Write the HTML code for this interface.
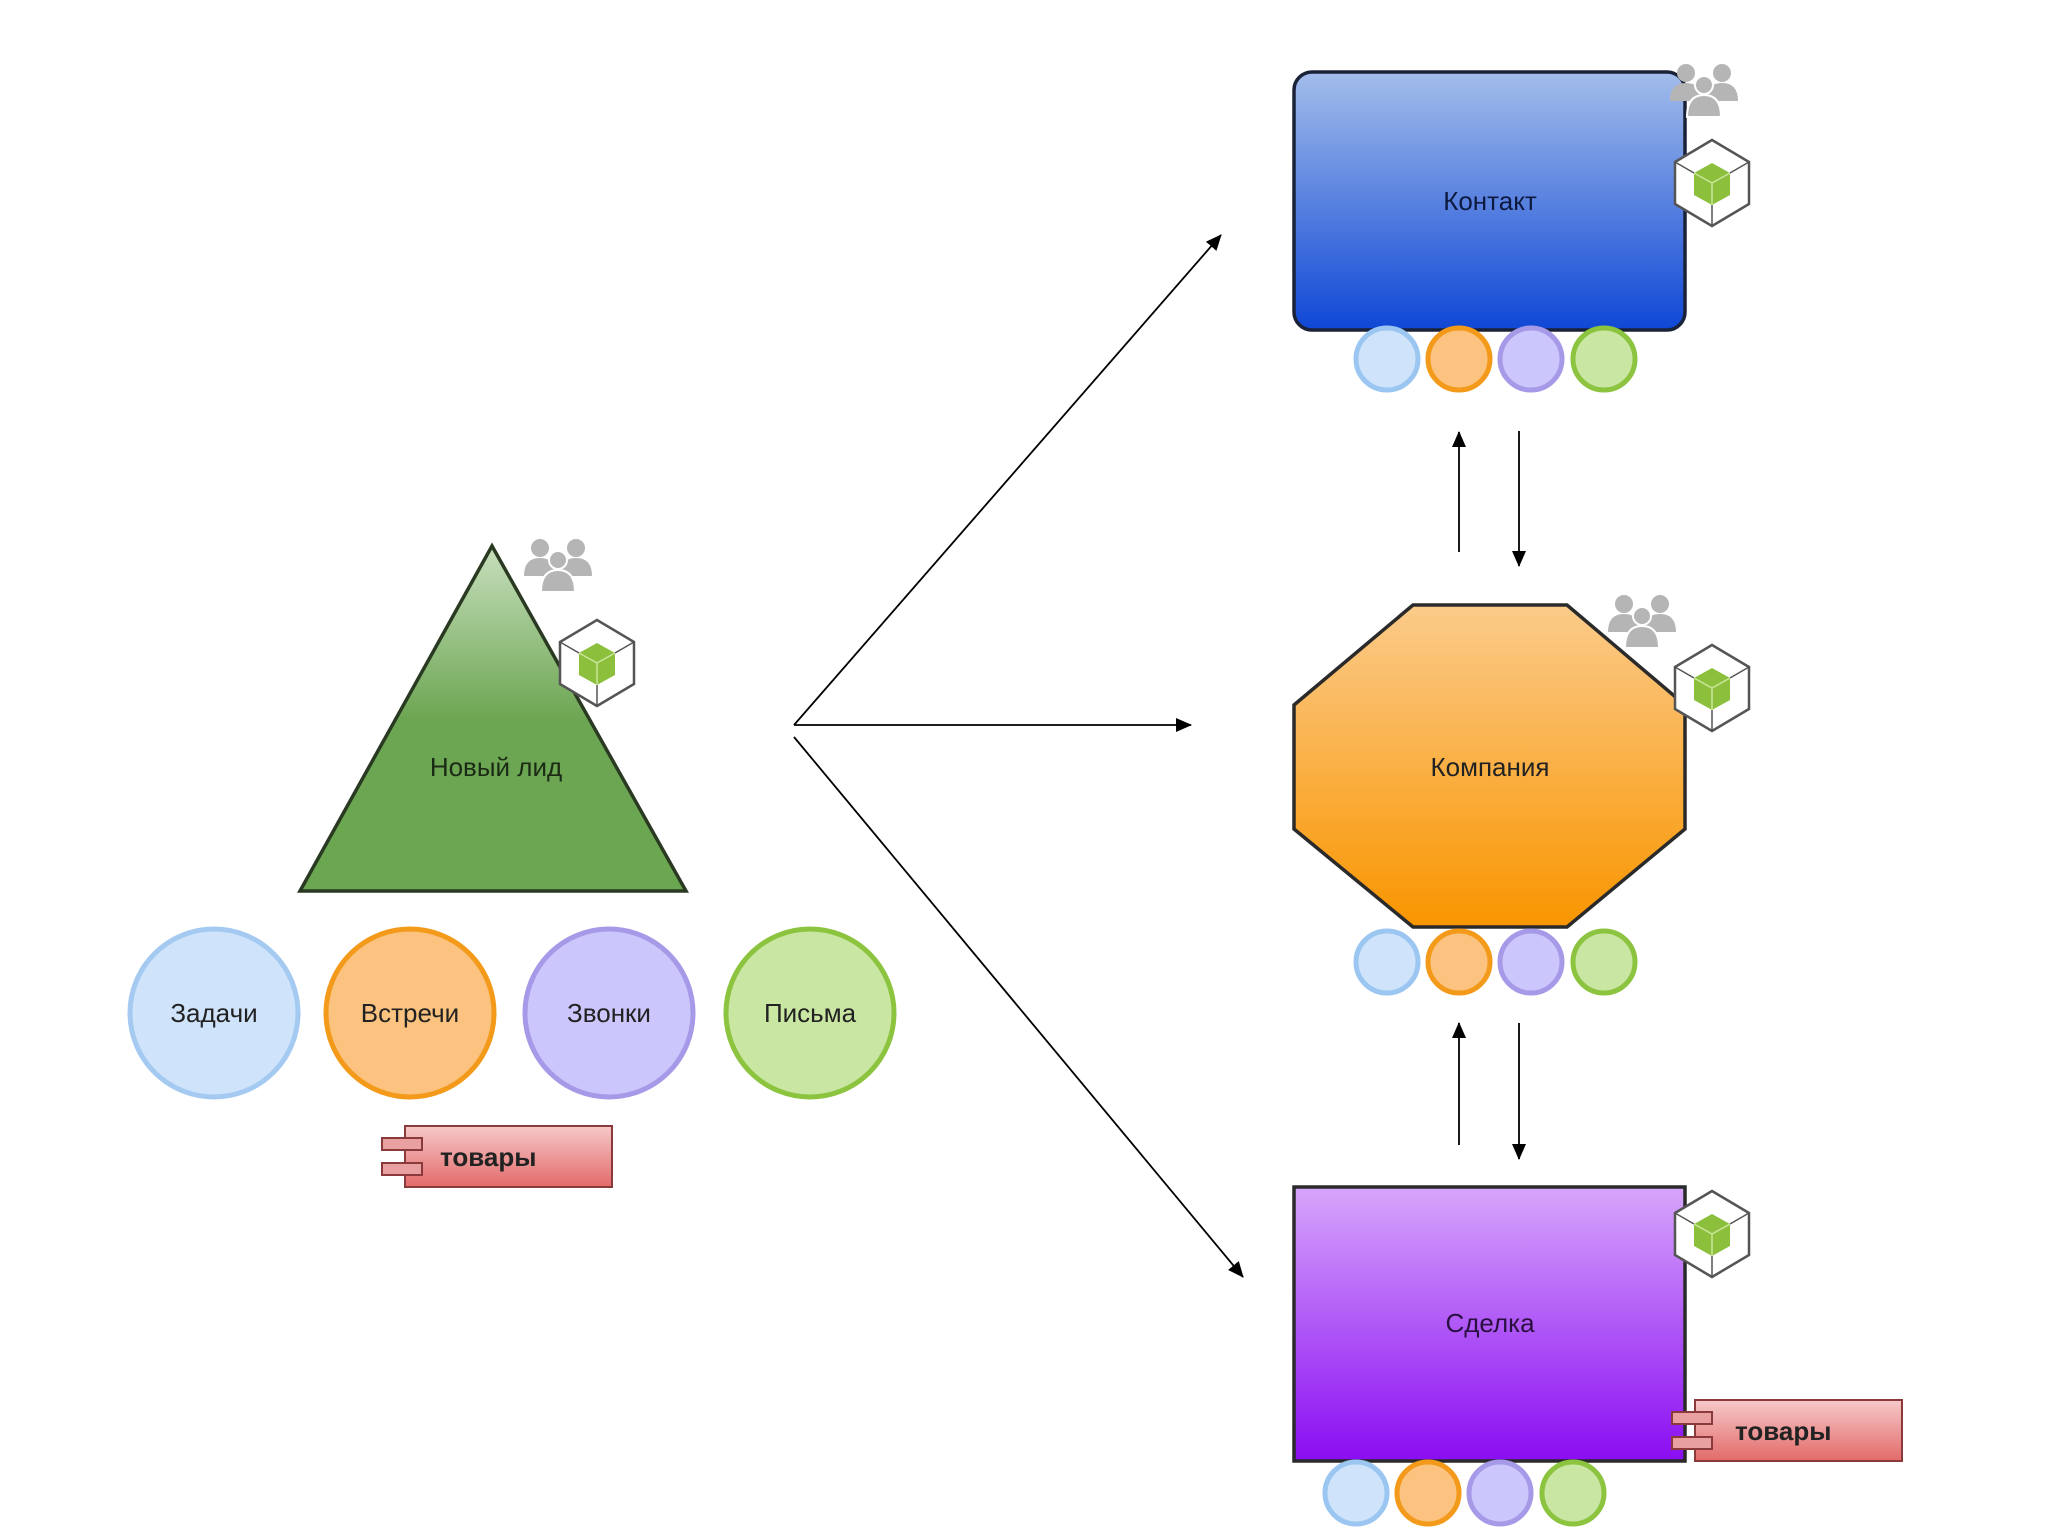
<!DOCTYPE html>
<html><head><meta charset="utf-8"><style>html,body{margin:0;padding:0;background:#fff}svg{display:block}text{font-family:"Liberation Sans",sans-serif}</style></head><body>
<svg width="2048" height="1536" viewBox="0 0 2048 1536" xmlns="http://www.w3.org/2000/svg">
<defs>
<linearGradient id="gb" x1="0" y1="0" x2="0" y2="1"><stop offset="0" stop-color="#a3bdea"/><stop offset="1" stop-color="#0f47d6"/></linearGradient>
<linearGradient id="go" x1="0" y1="0" x2="0" y2="1"><stop offset="0" stop-color="#fbcb8a"/><stop offset="1" stop-color="#f99500"/></linearGradient>
<linearGradient id="gp" x1="0" y1="0" x2="0" y2="1"><stop offset="0" stop-color="#d7a5fb"/><stop offset="1" stop-color="#8a0df2"/></linearGradient>
<linearGradient id="gg" x1="0" y1="0" x2="0" y2="1"><stop offset="0" stop-color="#c7dfbc"/><stop offset="0.5" stop-color="#6da653"/><stop offset="1" stop-color="#6aa750"/></linearGradient>
<linearGradient id="gr" x1="0" y1="0" x2="0" y2="1"><stop offset="0" stop-color="#f6c9c9"/><stop offset="1" stop-color="#e36a6a"/></linearGradient>
<marker id="ar" markerWidth="10" markerHeight="10" refX="9" refY="5" orient="auto" markerUnits="userSpaceOnUse"><path d="M0,0 L10,5 L0,10 z" fill="#000"/></marker>
<marker id="ar2" markerWidth="16" markerHeight="16" refX="15" refY="8" orient="auto" markerUnits="userSpaceOnUse"><path d="M0,1 L16,8 L0,15 z" fill="#000"/></marker>
<g id="cube"><polygon points="0,-43 37,-21 37,21 0,43 -37,21 -37,-21" fill="#fff" stroke="#555" stroke-width="2.5"/><polygon points="0,-20 18,-10 18,12 0,22 -18,12 -18,-10" fill="#8cbf3c"/><path d="M-18,-10 L0,0 L18,-10 M0,0 L0,22" stroke="#c9e69a" stroke-width="1.5" fill="none"/><path d="M-37,-21 L-18,-10 M37,-21 L18,-10 M0,43 L0,22" stroke="#555" stroke-width="1.5"/></g>
<g id="ppl" fill="#b5b5b5"><circle cx="-18" cy="-16" r="9"/><circle cx="18" cy="-16" r="9"/><path d="M-34,12 Q-34,-6 -18,-6 Q-2,-6 -2,12z M2,12 Q2,-6 18,-6 Q34,-6 34,12z"/><circle cx="0" cy="-4" r="9" stroke="#fff" stroke-width="2"/><path d="M-17,28 Q-17,6 0,6 Q17,6 17,28z" stroke="#fff" stroke-width="2"/></g>
<g id="tov"><rect x="0" y="0" width="207" height="61" fill="url(#gr)" stroke="#8a3a3a" stroke-width="2"/><rect x="-23" y="12" width="40" height="12" fill="#e8a0a0" stroke="#8a3a3a" stroke-width="2"/><rect x="-23" y="37" width="40" height="12" fill="#e8a0a0" stroke="#8a3a3a" stroke-width="2"/></g>
<g id="c4"><circle cx="0" cy="0" r="31" fill="#cfe4fb" stroke="#9cc6f2" stroke-width="5"/><circle cx="72" cy="0" r="31" fill="#fbc37f" stroke="#f39a1a" stroke-width="5"/><circle cx="144" cy="0" r="31" fill="#cbc6fb" stroke="#a69ae8" stroke-width="5"/><circle cx="217" cy="0" r="31" fill="#c9e6a3" stroke="#8cc43f" stroke-width="5"/></g>
</defs>
<!-- connectors -->
<g stroke="#000" stroke-width="1.8" fill="none">
<line x1="794" y1="725" x2="1221" y2="235" marker-end="url(#ar2)"/>
<line x1="794" y1="725" x2="1191" y2="725" marker-end="url(#ar2)"/>
<line x1="794" y1="737" x2="1243" y2="1277" marker-end="url(#ar2)"/>
<line x1="1459" y1="552" x2="1459" y2="432" marker-end="url(#ar2)"/>
<line x1="1519" y1="431" x2="1519" y2="566" marker-end="url(#ar2)"/>
<line x1="1459" y1="1145" x2="1459" y2="1023" marker-end="url(#ar2)"/>
<line x1="1519" y1="1023" x2="1519" y2="1159" marker-end="url(#ar2)"/>
</g>
<!-- triangle -->
<polygon points="492,546 686,891 300,891" fill="url(#gg)" stroke="#2a3a22" stroke-width="3.5"/>
<text x="496" y="776" font-size="26" text-anchor="middle" fill="#1a2a14">Новый лид</text>
<use href="#ppl" x="558" y="564"/>
<use href="#cube" x="597" y="663"/>
<!-- big circles -->
<circle cx="214" cy="1013" r="84" fill="#cfe4fb" stroke="#a4caf2" stroke-width="5"/>
<circle cx="410" cy="1013" r="84" fill="#fbc37f" stroke="#f39a1a" stroke-width="5"/>
<circle cx="609" cy="1013" r="84" fill="#cbc6fb" stroke="#a69ae8" stroke-width="5"/>
<circle cx="810" cy="1013" r="84" fill="#c9e6a3" stroke="#8cc43f" stroke-width="5"/>
<g font-size="26" text-anchor="middle" fill="#222">
<text x="214" y="1022">Задачи</text><text x="410" y="1022">Встречи</text><text x="609" y="1022">Звонки</text><text x="810" y="1022">Письма</text></g>
<use href="#tov" x="405" y="1126"/>
<text x="440" y="1166" font-size="26" font-weight="bold" fill="#222">товары</text>
<!-- contact -->
<rect x="1294" y="72" width="391" height="258" rx="18" fill="url(#gb)" stroke="#1a2238" stroke-width="3.5"/>
<text x="1490" y="210" font-size="26" text-anchor="middle" fill="#0d1a40">Контакт</text>
<use href="#ppl" x="1704" y="89"/>
<use href="#cube" x="1712" y="183"/>
<use href="#c4" x="1387" y="359"/>
<!-- company -->
<polygon points="1413,605 1567,605 1685,705 1685,829 1567,927 1413,927 1294,829 1294,705" fill="url(#go)" stroke="#2a2a2a" stroke-width="3.5"/>
<text x="1490" y="776" font-size="26" text-anchor="middle" fill="#222">Компания</text>
<use href="#ppl" x="1642" y="620"/>
<use href="#cube" x="1712" y="688"/>
<use href="#c4" x="1387" y="962"/>
<!-- deal -->
<rect x="1294" y="1187" width="391" height="274" fill="url(#gp)" stroke="#2a2a2a" stroke-width="3.5"/>
<text x="1490" y="1332" font-size="26" text-anchor="middle" fill="#2a1040">Сделка</text>
<use href="#cube" x="1712" y="1234"/>
<use href="#tov" x="1695" y="1400"/>
<text x="1735" y="1440" font-size="26" font-weight="bold" fill="#222">товары</text>
<use href="#c4" x="1356" y="1493"/>
</svg>
</body></html>
